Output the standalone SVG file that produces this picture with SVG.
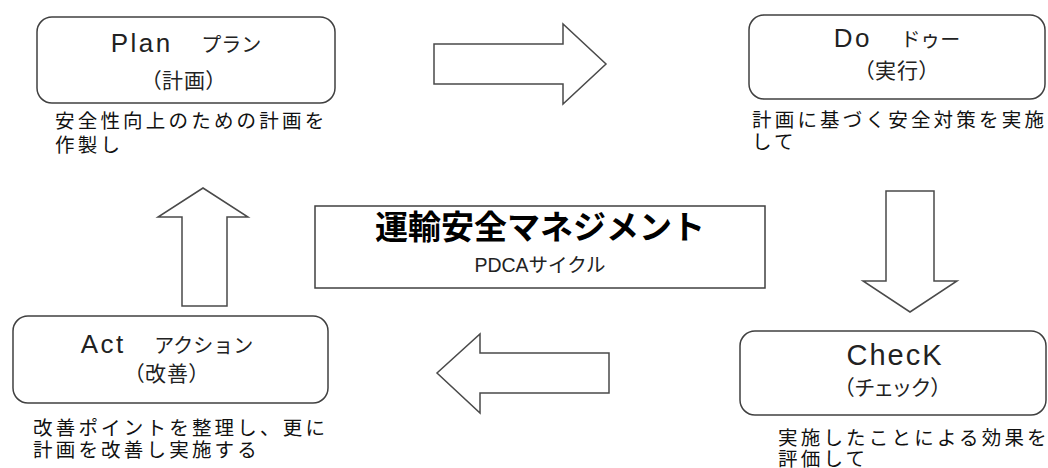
<svg xmlns="http://www.w3.org/2000/svg" width="1048" height="468" viewBox="0 0 1048 468">
<style>
.box{fill:#fff;stroke:#404040;stroke-width:1.5}
.arr{fill:#fff;stroke:#4a4a4a;stroke-width:1.5;stroke-linejoin:miter}
.t{font-family:"Liberation Sans","Noto Sans CJK JP",sans-serif;fill:#222;text-anchor:middle}
.title{font-size:26px;letter-spacing:2.5px}
.kana{font-family:"Noto Sans CJK JP",sans-serif;font-size:20px;letter-spacing:0}
.sub{font-family:"Noto Sans CJK JP",sans-serif;font-size:21px;font-feature-settings:"palt";letter-spacing:1px}
.d{font-family:"Noto Sans CJK JP",sans-serif;font-size:19.5px;letter-spacing:3.2px;fill:#111}
</style>
<rect width="1048" height="468" fill="#fff"/>
<g id="connectors">
<polygon class="arr" points="434,44 563,44 563,24 606,64 563,104 563,84 434,84"/>
<polygon class="arr" points="886,191 934,191 934,281 957,281 910,312 863,281 886,281"/>
<polygon class="arr" points="609,353 480,353 480,334 437,373 480,413 480,393 609,393"/>
<polygon class="arr" points="182,306 182,217 158,217 203,188 248,217 227,217 227,306"/>
</g>
<g id="plan">
<rect class="box" x="37" y="17" width="298" height="86" rx="15"/>
<text class="t title" x="186" y="52">Plan　<tspan class="kana">プラン</tspan></text>
<text class="t sub" x="184" y="88">（計画）</text>
<text class="d" x="55" y="128">安全性向上のための計画を</text>
<text class="d" x="55" y="152">作製し</text>
</g>
<g id="do">
<rect class="box" x="749" y="15" width="296" height="84" rx="15"/>
<text class="t title" x="897" y="47">Do　<tspan class="kana">ドゥー</tspan></text>
<text class="t sub" x="897" y="78">（実行）</text>
<text class="d" x="752" y="127">計画に基づく安全対策を実施</text>
<text class="d" x="752" y="149">して</text>
</g>
<g id="check">
<rect class="box" x="740" y="331" width="306" height="84" rx="15"/>
<text class="t" x="895" y="365" style="font-size:29px;letter-spacing:2px">ChecK</text>
<text class="t sub" x="893" y="395">（チェック）</text>
<text class="d" x="778" y="445">実施したことによる効果を</text>
<text class="d" x="778" y="466">評価して</text>
</g>
<g id="act">
<rect class="box" x="13" y="316" width="315" height="87" rx="15"/>
<text class="t title" x="167" y="353">Act　<tspan class="kana">アクション</tspan></text>
<text class="t sub" x="167" y="381">（改善）</text>
<text class="d" x="33" y="435">改善ポイントを整理し、更に</text>
<text class="d" x="33" y="457">計画を改善し実施する</text>
</g>
<g id="center">
<rect x="315" y="206" width="450" height="82" fill="#fff" stroke="#404040" stroke-width="1.5"/>
<text class="t" x="540" y="239" style="font-family:'Noto Sans CJK JP',sans-serif;font-size:33px;font-weight:bold;fill:#000">運輸安全マネジメント</text>
<text class="t" x="540" y="272" style="font-size:19.5px">PDCAサイクル</text>
</g>
</svg>
